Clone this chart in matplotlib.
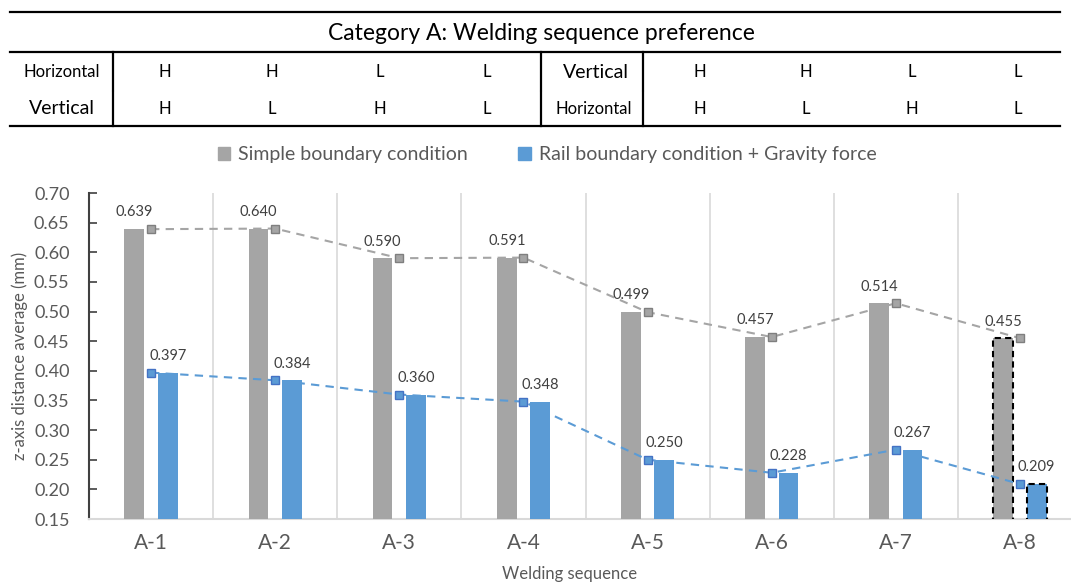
import matplotlib
matplotlib.use("Agg")
import matplotlib.pyplot as plt
import numpy as np
from matplotlib.patches import Patch

plt.rcParams['font.family'] = ['Lato', 'DejaVu Sans']

# welding sequences and the two boundary setups
sequences = ["A-1", "A-2", "A-3", "A-4", "A-5", "A-6", "A-7", "A-8"]
simple_bc = [0.639, 0.640, 0.590, 0.591, 0.499, 0.457, 0.514, 0.455]
rail_gravity = [0.397, 0.384, 0.360, 0.348, 0.250, 0.228, 0.267, 0.209]

# preference table above the chart
first_dir = ["Horizontal", "Vertical"]
second_dir = ["Vertical", "Horizontal"]
pref_row1 = ["H", "H", "L", "L", "H", "H", "L", "L"]
pref_row2 = ["H", "L", "H", "L", "H", "L", "H", "L"]

GRAY = "#a5a5a5"
BLUE = "#5b9bd5"
TXT = "#595959"

W, H = 1071, 585
fig = plt.figure(figsize=(W / 100, H / 100), dpi=100)

# main chart axes (right edge runs past the figure)
left, right, top, bottom = 89, 1082, 193, 519
ax = fig.add_axes([left / W, 1 - bottom / H, (right - left) / W, (bottom - top) / H])

x = np.arange(len(sequences))
bw = 0.16
off = 0.135
gbars = ax.bar(x - off, simple_bc, bw, color=GRAY, bottom=0, zorder=3)
bbars = ax.bar(x + off, rail_gravity, bw, color=BLUE, bottom=0, zorder=3)

# last pair is highlighted with a dashed outline
for b in (gbars[-1], bbars[-1]):
    b.set_edgecolor("black")
    b.set_linestyle((0, (3, 2)))
    b.set_linewidth(1.5)

ax.plot(x, simple_bc, ls=(0, (4, 3)), color=GRAY, lw=1.5, marker="s", ms=6,
        mfc=GRAY, mec="#7f7f7f", mew=1, zorder=4)
ax.plot(x, rail_gravity, ls=(0, (4, 3)), color=BLUE, lw=1.5, marker="s", ms=6,
        mfc=BLUE, mec="#4472c4", mew=1, zorder=4)

for i in range(len(x)):
    ax.annotate(f"{simple_bc[i]:.3f}", (x[i], simple_bc[i]), xytext=(-12, 12),
                textcoords="offset points", ha="center", va="center",
                fontsize=10.5, color="#404040", zorder=5)
    ax.annotate(f"{rail_gravity[i]:.3f}", (x[i], rail_gravity[i]), xytext=(12, 12),
                textcoords="offset points", ha="center", va="center",
                fontsize=10.5, color="#404040", zorder=5)

ax.set_xlim(-0.5, len(x) - 0.5)
ax.set_ylim(0.15, 0.70)
yt = np.arange(0.15, 0.701, 0.05)
ax.set_yticks(yt)
ax.set_yticklabels([f"{v:.2f}" for v in yt])
ax.set_xticks(x)
ax.set_xticklabels(sequences)
ax.tick_params(axis="x", length=0, labelsize=15, labelcolor=TXT, pad=10)
ax.tick_params(axis="y", direction="in", length=6, width=1.2, color="#404040",
               labelsize=13, labelcolor=TXT, pad=14)

# category separators
for b in np.arange(0.5, len(x) - 0.5, 1):
    ax.axvline(b, color="#d9d9d9", lw=1.2, zorder=1)

for s in ("top", "right"):
    ax.spines[s].set_visible(False)
ax.spines["left"].set_color("#404040")
ax.spines["left"].set_linewidth(1.5)
ax.spines["bottom"].set_color("#d9d9d9")
ax.spines["bottom"].set_linewidth(1.5)

ax.set_ylabel("z-axis distance average (mm)", fontsize=12, color=TXT)
ax.yaxis.set_label_coords((28 - left) / (right - left), 0.5)
ax.set_xlabel("Welding sequence", fontsize=12, color=TXT)
ax.xaxis.set_label_coords((570 - left) / (right - left), (bottom - 566) / (bottom - top))

# legend row
handles = [Patch(color=GRAY, label="Simple boundary condition"),
           Patch(color=BLUE, label="Rail boundary condition + Gravity force")]
fig.legend(handles=handles, loc="center", bbox_to_anchor=(547 / W, 1 - 155 / H),
           ncol=2, frameon=False, fontsize=14, labelcolor=TXT,
           handlelength=0.65, handleheight=0.65, handletextpad=0.4, columnspacing=2.6)

# preference table drawn in pixel coordinates
tb = fig.add_axes([0, 0, 1, 1])
tb.set_xlim(0, W)
tb.set_ylim(H, 0)
tb.axis("off")
for yy in (12, 52, 126):
    tb.plot([10, 1060], [yy, yy], color="black", lw=1.6)
for xx in (113, 541, 643):
    tb.plot([xx, xx], [52, 89.5], color="black", lw=1.6)
    tb.plot([xx, xx], [91.5, 126], color="black", lw=1.6)

tb.text(541, 33, "Category A: Welding sequence preference", ha="center", va="center",
        fontsize=16.5, color="black")
row_y = (72, 109)
tb.text(62, row_y[0], first_dir[0], ha="center", va="center", fontsize=12)
tb.text(62, row_y[1], first_dir[1], ha="center", va="center", fontsize=14)
tb.text(596, row_y[0], second_dir[0], ha="center", va="center", fontsize=14)
tb.text(594, row_y[1], second_dir[1], ha="center", va="center", fontsize=12)
col_x = [165, 272, 380, 487, 700, 806, 912, 1018]
for cx, a, b in zip(col_x, pref_row1, pref_row2):
    tb.text(cx, row_y[0], a, ha="center", va="center", fontsize=12)
    tb.text(cx, row_y[1], b, ha="center", va="center", fontsize=12)

fig.savefig("out.png", dpi=100)
